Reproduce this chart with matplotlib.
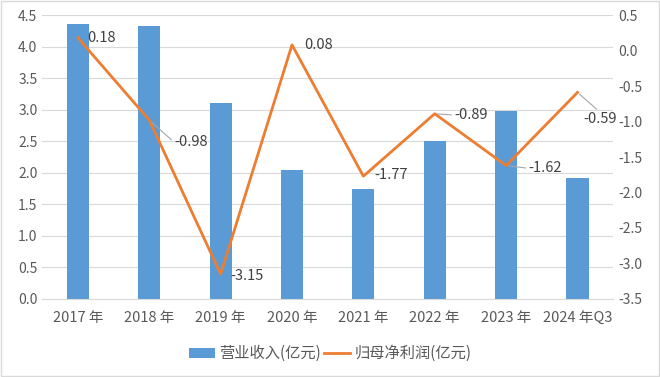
import matplotlib
matplotlib.use("Agg")
import matplotlib.pyplot as plt
from matplotlib.patches import Rectangle

plt.rcParams['font.family'] = ['Noto Sans CJK SC', 'DejaVu Sans']

years = ['2017 年', '2018 年', '2019 年', '2020 年', '2021 年', '2022 年', '2023 年', '2024 年Q3']
revenue = [4.36, 4.32, 3.11, 2.05, 1.75, 2.50, 2.98, 1.91]
profit = [0.18, -0.98, -3.15, 0.08, -1.77, -0.89, -1.62, -0.59]
profit_text = ['0.18', '-0.98', '-3.15', '0.08', '-1.77', '-0.89', '-1.62', '-0.59']
# label offsets in points (dx, dy) and leader line anchor on the text (None = no line)
label_off = [(7, 0), (18, -16), (7, -1), (9, 0), (8, 1), (14, -1), (16, -2), (4, -19)]
leader = [None, (0, 0.5), None, None, None, (0, 0.5), (0, 0.5), (0.5, 1)]

blue = '#5B9BD5'
orange = '#ED7D31'
grey = '#595959'

fig = plt.figure(figsize=(6.6, 3.77), dpi=100)
ax = fig.add_axes([0.064, 0.207, 0.865, 0.753])
ax2 = ax.twinx()

x = list(range(len(years)))
ax.bar(x, revenue, width=0.31, color=blue, label='营业收入(亿元)', zorder=2)
ax2.plot(x, profit, color=orange, lw=2, label='归母净利润(亿元)', zorder=3)

ax.set_xlim(-0.5, len(years) - 0.5)
ax.set_ylim(0, 4.5)
ax.set_yticks([i * 0.5 for i in range(10)])
ax.set_yticklabels([f'{i * 0.5:.1f}' for i in range(10)])
ax2.set_ylim(-3.5, 0.5)
ax2.set_yticks([-3.5 + i * 0.5 for i in range(9)])
ax2.set_yticklabels([f'{-3.5 + i * 0.5:.1f}' for i in range(9)])
ax.set_xticks(x)
ax.set_xticklabels(years)

ax.grid(axis='y', color='#D9D9D9', lw=0.8, zorder=0)
for a in (ax, ax2):
    for s in a.spines.values():
        s.set_visible(False)
    a.tick_params(length=0, colors=grey, labelsize=10)
ax.spines['bottom'].set_visible(True)
ax.spines['bottom'].set_color('#D9D9D9')
ax.tick_params(axis='x', pad=9, labelsize=10.5)
ax.set_zorder(ax2.get_zorder() - 1)
ax.patch.set_visible(False)

for i, (v, t) in enumerate(zip(profit, profit_text)):
    dx, dy = label_off[i]
    kw = {}
    if leader[i] is not None:
        kw['arrowprops'] = dict(arrowstyle='-', color='#A6A6A6', lw=0.8,
                                shrinkA=0, shrinkB=2, relpos=leader[i])
    ax2.annotate(t, (i, v), xytext=(dx, dy), textcoords='offset points',
                 ha='left', va='center', fontsize=10.5, color='#404040', **kw)

h1, l1 = ax.get_legend_handles_labels()
h2, l2 = ax2.get_legend_handles_labels()
fig.legend(h1 + h2, l1 + l2, loc='center', bbox_to_anchor=(0.5, 0.062), ncol=2,
           frameon=False, fontsize=11, labelcolor=grey, handlelength=1.7,
           handleheight=0.65, columnspacing=0.2, handletextpad=0.3)

fig.patches.append(Rectangle((0.002, 0.003), 0.996, 0.994, transform=fig.transFigure,
                             fill=False, edgecolor='#D9D9D9', lw=1))

fig.savefig('out.png', dpi=100)
